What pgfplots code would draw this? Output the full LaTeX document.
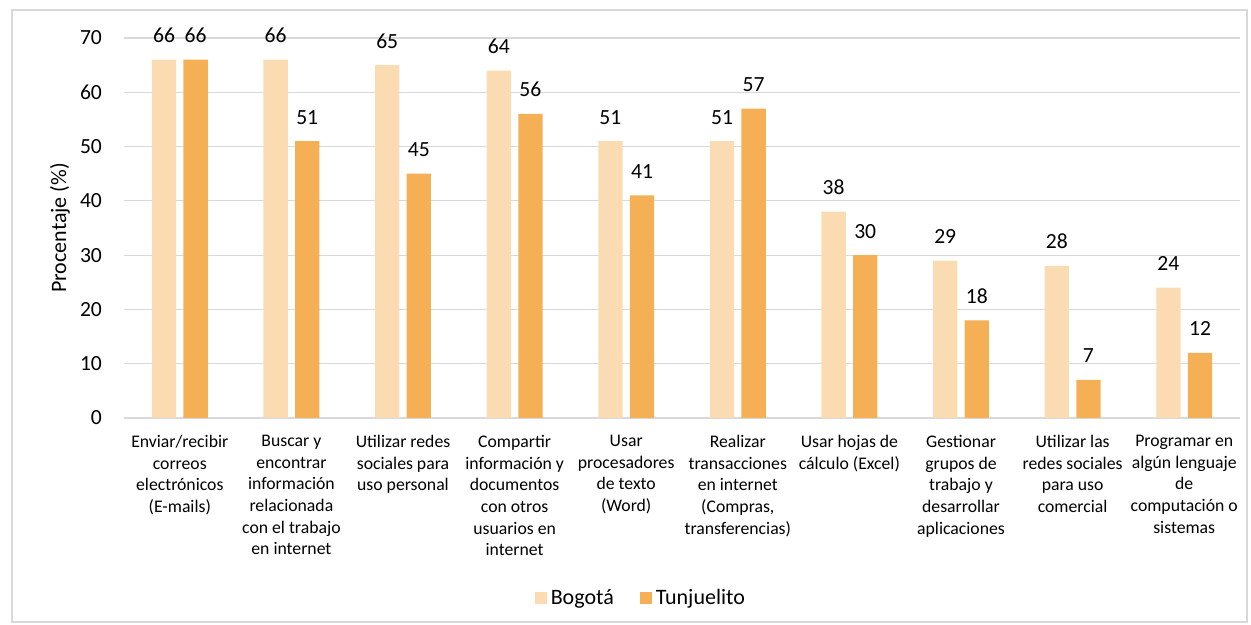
\documentclass[border=0pt]{standalone}
\usepackage{pgfplots}
\pgfplotsset{compat=1.18}
\usepackage{fontspec}
\setmainfont{Carlito}
\definecolor{bog}{HTML}{FBDCB2}
\definecolor{tun}{HTML}{F5B055}
\definecolor{gridc}{HTML}{D9D9D9}
\begin{document}
\begin{tikzpicture}
\useasboundingbox (0,0) rectangle (625.5pt,312.5pt);
\draw[gridc, line width=0.8pt] (6pt,1.5pt) rectangle (623.5pt,307.5pt);
\begin{axis}[
  at={(62pt,103.5pt)}, anchor=south west,
  scale only axis, width=558pt, height=190pt,
  /pgf/number format/assume math mode=true,
  ybar=3.65pt, bar width=12.15pt,
  xmin=-0.5, xmax=9.5, ymin=0, ymax=70, enlargelimits=false,
  xtick={0,...,9}, ytick={0,10,...,70},
  major tick length=0pt,
  axis x line*=bottom, axis y line*=left,
  x axis line style={draw=gridc, line width=1pt, -},
  y axis line style={draw=none},
  ymajorgrids, major grid style={draw=gridc, line width=0.6pt},
  yticklabel style={font=\fontsize{10.8}{12}\selectfont, anchor=east, xshift=-7.5pt},
  xticklabel style={font=\fontsize{8.85}{10.85}\selectfont, align=center, anchor=north, yshift=-5pt},
  xticklabels={
    {Enviar/recibir\\correos\\electrónicos\\(E-mails)},
    {Buscar y\\encontrar\\información\\relacionada\\con el trabajo\\en internet},
    {Utilizar redes\\sociales para\\uso personal},
    {Compartir\\información y\\documentos\\con otros\\usuarios en\\internet},
    {Usar\\procesadores\\de texto\\(Word)},
    {Realizar\\transacciones\\en internet\\(Compras,\\transferencias)},
    {Usar hojas de\\cálculo (Excel)},
    {Gestionar\\grupos de\\trabajo y\\desarrollar\\aplicaciones},
    {Utilizar las\\redes sociales\\para uso\\comercial},
    {Programar en\\algún lenguaje\\de\\computación o\\sistemas}},
  ylabel={Procentaje (\%)},
  ylabel style={font=\fontsize{11}{13}\selectfont, at={(axis description cs:-0.0573,0.5)}, anchor=center, rotate=0},
  nodes near coords,
  every node near coord/.append style={font=\fontsize{10.8}{12}\selectfont, anchor=base, yshift=8.5pt, text=black},
  legend style={draw=none, at={(0.464,-0.475)}, anchor=center, font=\fontsize{11}{13}\selectfont, legend columns=2,
    /tikz/every even column/.append style={column sep=11pt}},
]
\addplot[fill=bog, draw=none, legend image code/.code={\fill[bog] (0pt,-3pt) rectangle (6pt,3pt);}]
  coordinates {(0,66) (1,66) (2,65) (3,64) (4,51) (5,51) (6,38) (7,29) (8,28) (9,24)};
\addplot[fill=tun, draw=none, legend image code/.code={\fill[tun] (0pt,-3pt) rectangle (6pt,3pt);}]
  coordinates {(0,66) (1,51) (2,45) (3,56) (4,41) (5,57) (6,30) (7,18) (8,7) (9,12)};
\legend{Bogotá, Tunjuelito}
\end{axis}
\end{tikzpicture}
\end{document}
